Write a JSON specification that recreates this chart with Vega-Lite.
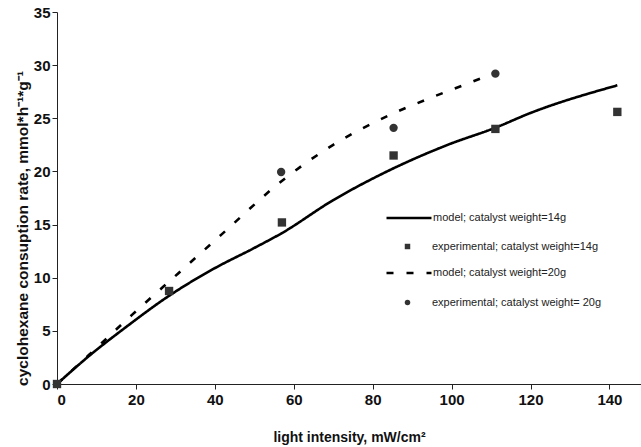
{
  "$schema": "https://vega.github.io/schema/vega-lite/v6.json",
  "width": 584,
  "height": 372,
  "autosize": "none",
  "padding": {"left": 57, "top": 12, "right": 0, "bottom": 63},
  "background": "white",
  "config": {
    "view": {"stroke": null},
    "axis": {
      "grid": false,
      "domainColor": "#222",
      "tickColor": "#222",
      "labelColor": "#111",
      "labelFont": "Liberation Sans",
      "labelFontWeight": "bold",
      "labelFontSize": 15,
      "titleFont": "Liberation Sans",
      "titleColor": "#111"
    }
  },
  "datasets": {
    "model": [
      {"series": "model; catalyst weight=14g", "x": 0, "y": 0},
      {"series": "model; catalyst weight=14g", "x": 8, "y": 2.6},
      {"series": "model; catalyst weight=14g", "x": 18, "y": 5.5},
      {"series": "model; catalyst weight=14g", "x": 28, "y": 8.2},
      {"series": "model; catalyst weight=14g", "x": 40, "y": 10.9},
      {"series": "model; catalyst weight=14g", "x": 50, "y": 12.8},
      {"series": "model; catalyst weight=14g", "x": 57, "y": 14.2},
      {"series": "model; catalyst weight=14g", "x": 70, "y": 17.3},
      {"series": "model; catalyst weight=14g", "x": 82, "y": 19.7},
      {"series": "model; catalyst weight=14g", "x": 99, "y": 22.5},
      {"series": "model; catalyst weight=14g", "x": 111, "y": 24.1},
      {"series": "model; catalyst weight=14g", "x": 120, "y": 25.5},
      {"series": "model; catalyst weight=14g", "x": 142, "y": 28.1},
      {"series": "model; catalyst weight=20g", "x": 0, "y": 0},
      {"series": "model; catalyst weight=20g", "x": 8, "y": 2.7},
      {"series": "model; catalyst weight=20g", "x": 19, "y": 6.5},
      {"series": "model; catalyst weight=20g", "x": 30.7, "y": 10.4},
      {"series": "model; catalyst weight=20g", "x": 41.8, "y": 14.1},
      {"series": "model; catalyst weight=20g", "x": 57.3, "y": 19.2},
      {"series": "model; catalyst weight=20g", "x": 70, "y": 22.5},
      {"series": "model; catalyst weight=20g", "x": 84.3, "y": 25.3},
      {"series": "model; catalyst weight=20g", "x": 95.2, "y": 27.0},
      {"series": "model; catalyst weight=20g", "x": 105, "y": 28.4},
      {"series": "model; catalyst weight=20g", "x": 110.4, "y": 29.2}
    ],
    "exp": [
      {"series": "experimental; catalyst weight=14g", "x": 0, "y": 0},
      {"series": "experimental; catalyst weight=14g", "x": 28.4, "y": 8.75},
      {"series": "experimental; catalyst weight=14g", "x": 57, "y": 15.2},
      {"series": "experimental; catalyst weight=14g", "x": 85.3, "y": 21.5},
      {"series": "experimental; catalyst weight=14g", "x": 111.1, "y": 24.0},
      {"series": "experimental; catalyst weight=14g", "x": 142, "y": 25.6},
      {"series": "experimental; catalyst weight= 20g", "x": 56.8, "y": 19.95},
      {"series": "experimental; catalyst weight= 20g", "x": 85.3, "y": 24.1},
      {"series": "experimental; catalyst weight= 20g", "x": 111.1, "y": 29.2}
    ]
  },
  "layer": [
    {
      "mark": {"type": "rule", "color": "#333", "strokeWidth": 1},
      "encoding": {"y": {"datum": 35, "type": "quantitative", "scale": {"domain": [0, 35]}}}
    },
    {
      "data": {"name": "model"},
      "mark": {"type": "line", "color": "#000", "strokeWidth": 2.6, "interpolate": "monotone"},
      "encoding": {
        "x": {"field": "x", "type": "quantitative", "scale": {"domain": [0, 148], "nice": false},
          "axis": {"values": [0, 20, 40, 60, 80, 100, 120, 140], "tickSize": 5, "labelPadding": 3,
            "title": "light intensity, mW/cm²", "titleFontSize": 14, "titleFontWeight": "bold", "titlePadding": 23}},
        "y": {"field": "y", "type": "quantitative", "scale": {"domain": [0, 35], "nice": false},
          "axis": {"values": [0, 5, 10, 15, 20, 25, 30, 35], "tickSize": 5, "labelPadding": 2,
            "title": "cyclohexane consuption rate, mmol*h⁻¹*g⁻¹", "titleFontSize": 15.5, "titleFontWeight": "bold",
            "titleX": -35, "titleY": 216, "titleAlign": "center", "titleBaseline": "middle", "titleAngle": -90}},
        "strokeDash": {
          "field": "series", "type": "nominal",
          "scale": {"domain": ["model; catalyst weight=14g", "model; catalyst weight=20g"], "range": [[1, 0], [7, 13]]},
          "legend": {
            "title": null,
            "orient": "none",
            "legendX": 328,
            "legendY": 182,
            "padding": 0,
            "symbolType": "stroke",
            "symbolSize": 2025,
            "symbolStrokeWidth": 2.6,
            "symbolStrokeColor": "#000",
            "labelOffset": 0,
            "labelFont": "Liberation Sans",
            "labelFontSize": 11,
            "labelColor": "#222",
            "labelLimit": 300,
            "rowPadding": 25
          }
        }
      }
    },
    {
      "data": {"name": "exp"},
      "mark": {"type": "point", "filled": true, "color": "#333", "opacity": 1, "size": 70},
      "encoding": {
        "x": {"field": "x", "type": "quantitative"},
        "y": {"field": "y", "type": "quantitative"},
        "shape": {
          "field": "series", "type": "nominal",
          "scale": {
            "domain": ["experimental; catalyst weight=14g", "experimental; catalyst weight= 20g"],
            "range": ["square", "circle"]
          },
          "legend": {
            "title": null,
            "orient": "none",
            "legendX": 345,
            "legendY": 229,
            "padding": 0,
            "symbolSize": 30,
            "symbolFillColor": "#333",
            "labelOffset": 19,
            "labelFont": "Liberation Sans",
            "labelFontSize": 11,
            "labelColor": "#222",
            "labelLimit": 300,
            "rowPadding": 43,
            "symbolOpacity": 1
          }
        }
      }
    }
  ]
}
